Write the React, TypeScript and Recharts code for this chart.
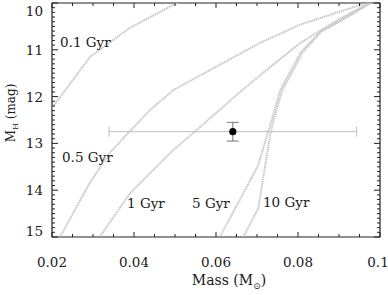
import React from "react";
import {
    ComposedChart,
    Line,
    Scatter,
    ErrorBar,
    XAxis,
    YAxis,
    ReferenceArea,
} from "recharts";

// isochrones: [mass (Msun), M_H (mag)]
const ISO_01: [number, number][] = [
    [0.017, 12.6], [0.02, 12.24], [0.0293, 11.15], [0.039, 10.53], [0.0505, 10.0], [0.052, 9.93],
];
const ISO_05: [number, number][] = [
    [0.0214, 15.1], [0.022, 14.99], [0.0293, 13.83], [0.0342, 13.19], [0.039, 12.74], [0.044, 12.28],
    [0.0496, 11.86], [0.0586, 11.43], [0.0708, 10.85], [0.0806, 10.46], [0.097, 9.99], [0.098, 9.96],
];
const ISO_1: [number, number][] = [
    [0.0312, 15.1], [0.0317, 14.99], [0.039, 14.07], [0.0496, 13.14], [0.0544, 12.78],
    [0.0659, 11.9], [0.0708, 11.54], [0.0806, 10.85], [0.0903, 10.33], [0.0977, 9.99], [0.099, 9.95],
];
const ISO_5: [number, number][] = [
    [0.0605, 15.1], [0.061, 14.99], [0.0703, 13.47], [0.0728, 12.72], [0.0737, 12.46],
    [0.0757, 11.86], [0.0806, 11.06], [0.0855, 10.61], [0.0903, 10.37], [0.0977, 9.99], [0.099, 9.95],
];
const ISO_10: [number, number][] = [
    [0.0664, 15.1], [0.0667, 14.99], [0.0703, 14.39], [0.0733, 12.78], [0.0742, 12.46],
    [0.0762, 11.86], [0.0811, 11.06], [0.0857, 10.61], [0.0906, 10.38], [0.0979, 9.99], [0.099, 9.95],
];

// measured object: mass, M_H with errors
const OBJ_MASS = 0.0641;
const OBJ_MAG = 12.75;
const OBJ_MASS_ERR = 0.0302;
const OBJ_MAG_ERR = 0.2;

const X_DOMAIN: [number, number] = [0.02, 0.1];
const Y_DOMAIN: [number, number] = [10, 15];

const range = (a: number, b: number, step: number) => {
    const out: number[] = [];
    const n = Math.round((b - a) / step);
    for (let i = 0; i <= n; i++) out.push(Math.round((a + i * step) * 1e6) / 1e6);
    return out;
};
const X_TICKS = range(0.02, 0.1, 0.005);
const Y_TICKS = range(10, 15, 0.1);

const W = 388;
const H = 295;
const MARGIN = { top: 3, right: 8, bottom: 0, left: 0 };
const X_AXIS_H = 58;
const Y_AXIS_W = 52;
const PLOT_W = W - MARGIN.right - MARGIN.left - Y_AXIS_W;
const PLOT_H = H - MARGIN.top - X_AXIS_H;

const FONT = "'DejaVu Serif', serif";
const TXT = "#1a1a1a";
const AXIS = "#222";
const CURVE = "#c4c4c4";

const toPts = (arr: [number, number][]) => arr.map(([x, y]) => ({ x, y }));

const isMajorX = (v: number) => Math.abs(v * 50 - Math.round(v * 50)) < 1e-6;
const isMajorY = (v: number) => Math.abs(v - Math.round(v)) < 1e-6;

// bottom axis tick: inward tick at bottom and mirrored one at the top frame
const XTick = (props: any) => {
    const { x, y, payload } = props;
    const v = payload.value as number;
    const major = isMajorX(v);
    const len = major ? 5 : 3;
    const top = y - PLOT_H;
    return (
        <g>
            <line x1={x} x2={x} y1={y} y2={y - len} stroke={AXIS} strokeWidth={1} />
            <line x1={x} x2={x} y1={top} y2={top + len} stroke={AXIS} strokeWidth={1} />
            {major && (
                <text x={x - (v > 0.099 ? 2 : 0)} y={y + 30} textAnchor="middle"
                    fontFamily={FONT} fontSize={13.5} fill={TXT}>
                    {String(Math.round(v * 100) / 100)}
                </text>
            )}
        </g>
    );
};

// left axis tick: inward tick at left and mirrored one at the right frame
const YTick = (props: any) => {
    const { x, y, payload } = props;
    const v = payload.value as number;
    const major = isMajorY(v);
    const len = major ? 6 : 3;
    const right = x + PLOT_W;
    let dy = 5;
    if (v < 10.01) dy = 13;
    if (v > 14.99) dy = -1;
    return (
        <g>
            <line x1={x} x2={x + len} y1={y} y2={y} stroke={AXIS} strokeWidth={1} />
            <line x1={right} x2={right - len} y1={y} y2={y} stroke={AXIS} strokeWidth={1} />
            {major && (
                <text x={x - 9} y={y + dy} textAnchor="end"
                    fontFamily={FONT} fontSize={13.5} fill={TXT}>
                    {String(Math.round(v))}
                </text>
            )}
        </g>
    );
};

const Dot = (props: any) => <circle cx={props.cx} cy={props.cy} r={3.6} fill="#000" />;

const series = [
    { key: "0.1", data: ISO_01 },
    { key: "0.5", data: ISO_05 },
    { key: "1", data: ISO_1 },
    { key: "5", data: ISO_5 },
    { key: "10", data: ISO_10 },
];

export default function App() {
    const obj = [{ x: OBJ_MASS, y: OBJ_MAG, ex: OBJ_MASS_ERR, ey: OBJ_MAG_ERR }];
    const labelStyle = { fontFamily: FONT, fontSize: 13.5, fill: TXT } as const;
    return (
        <div style={{ position: "absolute", left: 0, top: 0, width: W, height: H, background: "#fff" }}>
            <ComposedChart width={W} height={H} margin={MARGIN}>
                <XAxis dataKey="x" type="number" domain={X_DOMAIN} allowDataOverflow ticks={X_TICKS}
                    interval={0} height={X_AXIS_H} tickSize={0} tickMargin={0}
                    axisLine={false} tickLine={false} tick={XTick} />
                <YAxis dataKey="y" type="number" domain={Y_DOMAIN} reversed allowDataOverflow ticks={Y_TICKS}
                    interval={0} width={Y_AXIS_W} tickSize={0} tickMargin={0}
                    axisLine={false} tickLine={false} tick={YTick} />
                {series.map((s) => (
                    <Line key={s.key} data={toPts(s.data)} dataKey="y" type="linear" stroke={CURVE}
                        strokeWidth={2} strokeDasharray="1.3 0.7" dot={false} activeDot={false}
                        isAnimationActive={false} />
                ))}
                <Scatter data={obj} dataKey="y" shape={Dot} isAnimationActive={false}>
                    <ErrorBar dataKey="ex" direction="x" width={5} stroke="#bdbdbd" strokeWidth={1} />
                    <ErrorBar dataKey="ey" direction="y" width={6} stroke="#777" strokeWidth={1} />
                </Scatter>
                <ReferenceArea x1={X_DOMAIN[0]} x2={X_DOMAIN[1]} y1={Y_DOMAIN[0]} y2={Y_DOMAIN[1]}
                    fill="none" fillOpacity={0} stroke={AXIS} strokeWidth={1.2} />
            </ComposedChart>
            <svg width={W} height={H} style={{ position: "absolute", left: 0, top: 0, pointerEvents: "none" }}>
                <text x={60} y={47} {...labelStyle}>0.1 Gyr</text>
                <text x={62} y={162} {...labelStyle}>0.5 Gyr</text>
                <text x={127} y={208} {...labelStyle}>1 Gyr</text>
                <text x={192} y={208} {...labelStyle}>5 Gyr</text>
                <text x={263} y={207} {...labelStyle}>10 Gyr</text>
                <text x={229} y={285} textAnchor="middle" {...labelStyle} fontSize={14}>
                    Mass (M<tspan fontSize={9} dy={4}>⊙</tspan><tspan dy={-4}>)</tspan>
                </text>
                <text transform="translate(15,113) rotate(-90)" textAnchor="middle" {...labelStyle} fontSize={12}>
                    M<tspan fontSize={8} dy={3}>H</tspan><tspan dy={-3}> (mag)</tspan>
                </text>
            </svg>
        </div>
    );
}
